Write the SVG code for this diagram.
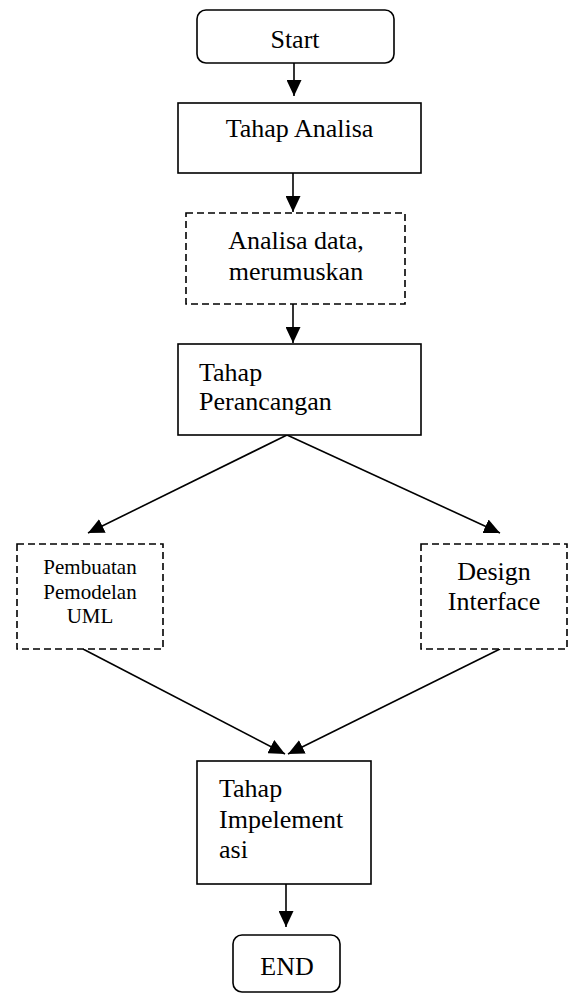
<svg xmlns="http://www.w3.org/2000/svg" width="569" height="997" viewBox="0 0 569 997">
<style>
  .box { fill: #ffffff; stroke: #000000; stroke-width: 1.6; }
  .dash { fill: #ffffff; stroke: #000000; stroke-width: 1.6; stroke-dasharray: 7 4; }
  .conn { stroke: #000000; stroke-width: 1.6; fill: none; }
  .lbl { font-family: 'Liberation Serif', 'Times New Roman', 'DejaVu Serif', serif; font-size: 26px; fill: #000000; }
  .mid { text-anchor: middle; }
  .small { font-size: 21px; }
</style>
<defs>
  <marker id="arrow" markerUnits="userSpaceOnUse" markerWidth="16" markerHeight="15" refX="16" refY="7.5" orient="auto">
    <path d="M0,0 L16,7.5 L0,15 z" fill="#000000"/>
  </marker>
</defs>
<rect width="569" height="997" fill="#ffffff"/>
<g id="connectors">
  <line class="conn" x1="294" y1="63" x2="294" y2="96" marker-end="url(#arrow)"/>
  <line class="conn" x1="293" y1="173" x2="293" y2="212" marker-end="url(#arrow)"/>
  <line class="conn" x1="293" y1="304" x2="293" y2="343" marker-end="url(#arrow)"/>
  <line class="conn" x1="287" y1="435" x2="88" y2="533" marker-end="url(#arrow)"/>
  <line class="conn" x1="287" y1="435" x2="500" y2="533" marker-end="url(#arrow)"/>
  <line class="conn" x1="83" y1="649" x2="285" y2="754" marker-end="url(#arrow)"/>
  <line class="conn" x1="500" y1="649" x2="288" y2="754" marker-end="url(#arrow)"/>
  <line class="conn" x1="286" y1="884" x2="286" y2="927" marker-end="url(#arrow)"/>
</g>
<g font-family="'Liberation Serif', 'Times New Roman', 'DejaVu Serif', serif">
<g id="start">
  <rect class="box" x="197" y="10" width="197" height="53" rx="9" ry="9"/>
  <text class="lbl mid" x="295" y="48">Start</text>
</g>
<g id="tahap-analisa">
  <rect class="box" x="178" y="103" width="243" height="70"/>
  <text class="lbl mid" x="299.5" y="137">Tahap Analisa</text>
</g>
<g id="analisa-data">
  <rect class="dash" x="186" y="213" width="219" height="91"/>
  <text class="lbl mid" x="296" y="248.5">Analisa data,</text>
  <text class="lbl mid" x="296" y="279.5">merumuskan</text>
</g>
<g id="tahap-perancangan">
  <rect class="box" x="178" y="344" width="243" height="91"/>
  <text class="lbl" x="199" y="381">Tahap</text>
  <text class="lbl" x="199" y="410">Perancangan</text>
</g>
<g id="pemodelan-uml">
  <rect class="dash" x="17" y="544" width="146" height="105"/>
  <text class="lbl mid small" x="90" y="574">Pembuatan</text>
  <text class="lbl mid small" x="90" y="599">Pemodelan</text>
  <text class="lbl mid small" x="90" y="623">UML</text>
</g>
<g id="design-interface">
  <rect class="dash" x="421" y="544" width="146" height="105"/>
  <text class="lbl mid" x="494" y="580">Design</text>
  <text class="lbl mid" x="494" y="610">Interface</text>
</g>
<g id="tahap-implementasi">
  <rect class="box" x="197" y="761" width="174" height="123"/>
  <text class="lbl" x="219" y="797">Tahap</text>
  <text class="lbl" x="219" y="828">Impelement</text>
  <text class="lbl" x="219" y="858">asi</text>
</g>
<g id="end">
  <rect class="box" x="233" y="935" width="107" height="57" rx="9" ry="9"/>
  <text class="lbl mid" x="287" y="975">END</text>
</g>
</g>
</svg>
